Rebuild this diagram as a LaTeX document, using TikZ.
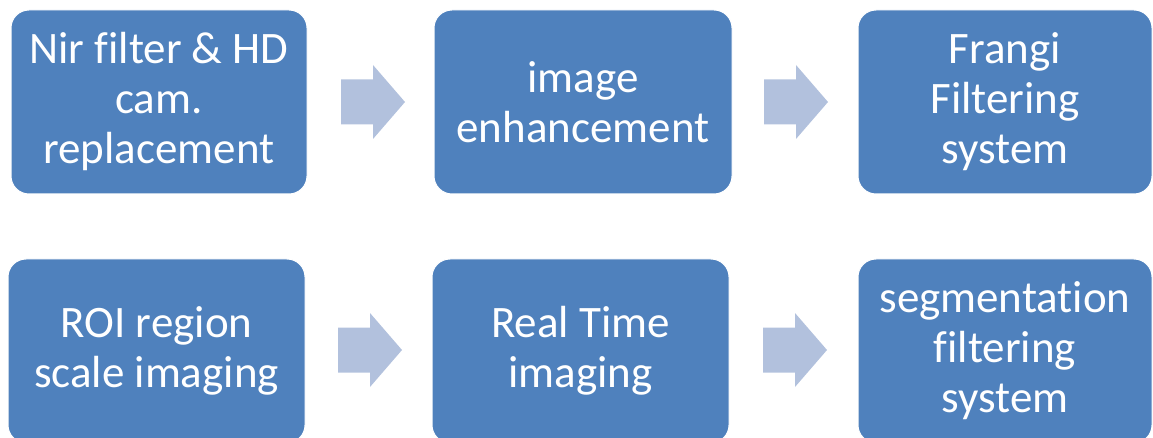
\documentclass[tikz,border=0pt]{standalone}
\usepackage{fontspec}
\setmainfont{Carlito}[Ligatures=NoCommon]
\definecolor{boxblue}{HTML}{4F81BD}
\definecolor{arrowblue}{HTML}{B2C1DD}
\tikzset{
  stepbox/.style={fill=boxblue, draw=white, line width=1pt, rounded corners=18pt,
    text=white, align=center, inner sep=0pt,
    minimum height=184pt, font=\fontsize{45}{50}\selectfont},
  blockarrow/.style={fill=arrowblue}
}
% block arrow: tail at (#1,#2) centre line, pointing right
\newcommand{\blockarr}[2]{%
  \fill[blockarrow] (#1,#2-22.5) -- (#1+32,#2-22.5) -- (#1+32,#2-37) -- (#1+64,#2)
    -- (#1+32,#2+37) -- (#1+32,#2+22.5) -- (#1,#2+22.5) -- cycle;}
\begin{document}
\begin{tikzpicture}[x=1pt,y=-1pt]
  \useasboundingbox (0,0) rectangle (1153,438);
  \begin{scope}
  \clip (0,0) rectangle (1153,438);
  % top row
  \node[stepbox, minimum width=296pt] (b1) at (159,102)
    {Nir filter \& HD\\cam.\\replacement};
  \node[stepbox, minimum width=298pt] (b2) at (583,102)
    {image\\enhancement};
  \node[stepbox, minimum width=294pt] (b3) at (1005,102)
    {Frangi\\Filtering\\system};
  % bottom row (runs past the lower edge)
  \node[stepbox, minimum width=297pt] (b4) at (156.5,351)
    {ROI region\\scale imaging};
  \node[stepbox, minimum width=297pt] (b5) at (580.5,351)
    {Real Time\\imaging};
  \node[stepbox, minimum width=294pt] (b6) at (1005,351)
    {segmentation\\filtering\\system};
  \end{scope}
  % arrows between the steps
  \blockarr{341}{102}
  \blockarr{764}{102}
  \blockarr{338}{350}
  \blockarr{763}{350}
\end{tikzpicture}
\end{document}
